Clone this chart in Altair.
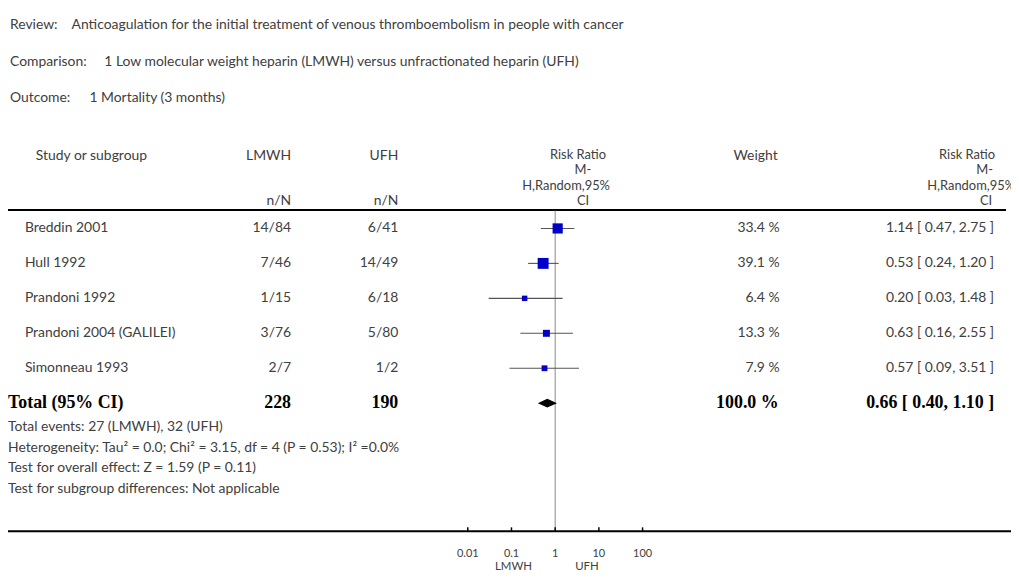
import altair as alt
import pandas as pd

# ---------------- data ----------------
studies = ["Breddin 2001", "Hull 1992", "Prandoni 1992", "Prandoni 2004 (GALILEI)", "Simonneau 1993"]
lmwh_events = [14, 7, 1, 3, 2]
lmwh_totals = [84, 46, 15, 76, 7]
ufh_events = [6, 14, 6, 5, 1]
ufh_totals = [41, 49, 18, 80, 2]
weights = [33.4, 39.1, 6.4, 13.3, 7.9]
rr = [1.14, 0.53, 0.20, 0.63, 0.57]
rr_low = [0.47, 0.24, 0.03, 0.16, 0.09]
rr_high = [2.75, 1.20, 1.48, 2.55, 3.51]

total_label = "Total (95% CI)"
total_lmwh = 228
total_ufh = 190
total_weight = 100.0
total_rr = 0.66
total_low = 0.40
total_high = 1.10

title_labels = ["Review:", "Comparison:", "Outcome:"]
title_values = [
    "Anticoagulation for the initial treatment of venous thromboembolism in people with cancer",
    "1 Low molecular weight heparin (LMWH) versus unfractionated heparin (UFH)",
    "1 Mortality (3 months)",
]
footnotes = [
    "Total events: 27 (LMWH), 32 (UFH)",
    "Heterogeneity: Tau\u00b2 = 0.0; Chi\u00b2 = 3.15, df = 4 (P = 0.53); I\u00b2 =0.0%",
    "Test for overall effect: Z = 1.59 (P = 0.11)",
    "Test for subgroup differences: Not applicable",
]
axis_ticks = [0.01, 0.1, 1, 10, 100]
axis_tick_labels = ["0.01", "0.1", "1", "10", "100"]
favours = ["LMWH", "UFH"]

# ---------------- styling ----------------
SANS = "Lato"
SERIF = "Liberation Serif"
TXT = "#404040"
M = 8  # page margin; positions below are page pixels


def P(v):
    return v - M


XS = alt.Scale(type="log", domain=[0.01, 100], range=[P(471), P(647)], nice=False)
ROW_GAP = 35.2
YS = alt.Scale(domain=[0, 5], range=[P(228), P(228) + 5 * ROW_GAP], nice=False, zero=False)


def label(text, x, y, align="left", size=14, color=TXT, font=SANS, weight="normal"):
    return alt.Chart(pd.DataFrame({"t": [text]})).mark_text(
        align=align, baseline="middle", font=font, fontSize=size, color=color, fontWeight=weight
    ).encode(x=alt.value(P(x)), y=alt.value(P(y)), text="t:N")


def hline(x1, x2, y, width=2, color="black"):
    return alt.Chart(pd.DataFrame({"k": [0]})).mark_rule(color=color, strokeWidth=width).encode(
        x=alt.value(P(x1)), x2=alt.value(P(x2)), y=alt.value(P(y))
    )


layers = []

# titles
for lab, val, y, vx in zip(title_labels, title_values, [23, 60, 97], [72, 105, 90]):
    layers.append(label(lab, 10, y))
    layers.append(label(val, vx, y))

# column headers
HS = 13
layers += [
    label("Study or subgroup", 36, 155),
    label("LMWH", 293, 155, align="right"),
    label("UFH", 401, 155, align="right"),
    label("n/N", 293, 200, align="right"),
    label("n/N", 401, 200, align="right"),
    label("Risk Ratio", 582, 154, align="center", size=HS),
    label("M-", 587, 169.5, align="center", size=HS),
    label("H,Random,95%", 570, 185, align="center", size=HS),
    label("CI", 587, 200, align="center", size=HS),
    label("Weight", 783, 155, align="right"),
    label("Risk Ratio", 1002, 154, align="right", size=HS),
    label("M-", 1000, 169.5, align="right", size=HS),
    label("H,Random,95%", 1022, 185, align="right", size=HS),
    label("CI", 999, 200, align="right", size=HS),
]

layers.append(hline(0, 1013, 209.5))

# study table
df = pd.DataFrame({
    "row": list(range(len(studies))),
    "study": studies,
    "lmwh": [f"{e}/{n}" for e, n in zip(lmwh_events, lmwh_totals)],
    "ufh": [f"{e}/{n}" for e, n in zip(ufh_events, ufh_totals)],
    "weight": weights,
    "weight_txt": [f"{w:.1f} %" for w in weights],
    "rr": rr,
    "lo": rr_low,
    "hi": rr_high,
    "rr_txt": [f"{r:.2f} [ {l:.2f}, {h:.2f} ]" for r, l, h in zip(rr, rr_low, rr_high)],
})
Y = alt.Y("row:Q", scale=YS, axis=None)


def col(field, x, align):
    return alt.Chart(df).mark_text(
        align=align, baseline="middle", font=SANS, fontSize=14, color=TXT
    ).encode(x=alt.value(P(x)), y=Y, text=f"{field}:N")


layers += [
    col("study", 25, "left"),
    col("lmwh", 293, "right"),
    col("ufh", 401, "right"),
    col("weight_txt", 785, "right"),
    col("rr_txt", 1001, "right"),
]

# total row
tdf = pd.DataFrame({
    "row": [len(studies)],
    "label": [total_label],
    "lmwh": [str(total_lmwh)],
    "ufh": [str(total_ufh)],
    "weight_txt": [f"{total_weight:.1f} %"],
    "rr_txt": [f"{total_rr:.2f} [ {total_low:.2f}, {total_high:.2f} ]"],
})


def tcol(field, x, align):
    return alt.Chart(tdf).mark_text(
        align=align, baseline="middle", font=SERIF, fontSize=18, fontWeight="bold", color="black"
    ).encode(x=alt.value(P(x)), y=Y, text=f"{field}:N")


layers += [
    tcol("label", 8, "left"),
    tcol("lmwh", 293, "right"),
    tcol("ufh", 401, "right"),
    tcol("weight_txt", 784, "right"),
    tcol("rr_txt", 1001, "right"),
]

# footnotes
for i, f in enumerate(footnotes):
    layers.append(label(f, 8, 428 + 20.7 * i))

# forest plot: line of no effect
layers.append(
    alt.Chart(pd.DataFrame({"x": [1]})).mark_rule(color="#8a8a8a", strokeWidth=1).encode(
        x=alt.X("x:Q", scale=XS, axis=None), y=alt.value(P(210)), y2=alt.value(P(533))
    )
)
# confidence intervals
layers.append(
    alt.Chart(df).mark_rule(color="#555555", strokeWidth=1.1).encode(
        x=alt.X("lo:Q", scale=XS, axis=None), x2="hi:Q", y=Y
    )
)
# study squares
layers.append(
    alt.Chart(df).mark_square(filled=True, color="#0000C8", opacity=1).encode(
        x=alt.X("rr:Q", scale=XS, axis=None),
        y=Y,
        size=alt.Size("weight:Q", scale=alt.Scale(domain=[6.4, 39.1], range=[30, 121]), legend=None),
    )
)
# pooled diamond
half = 4.4 / ROW_GAP
ddf = pd.DataFrame({
    "x": [total_low, total_rr, total_high],
    "top": [len(studies), len(studies) - half, len(studies)],
    "bot": [len(studies), len(studies) + half, len(studies)],
})
layers.append(
    alt.Chart(ddf).mark_area(color="black", opacity=1).encode(
        x=alt.X("x:Q", scale=XS, axis=None),
        y=alt.Y("top:Q", scale=YS, axis=None),
        y2="bot:Q",
    )
)

# bottom axis
layers.append(hline(0, 1019, 533))
tk = pd.DataFrame({"tick": axis_ticks, "lab": axis_tick_labels})
layers.append(
    alt.Chart(tk).mark_rule(color="black", strokeWidth=1.5).encode(
        x=alt.X("tick:Q", scale=XS, axis=None), y=alt.value(P(529)), y2=alt.value(P(533))
    )
)
layers.append(
    alt.Chart(tk).mark_text(baseline="middle", font=SANS, fontSize=11, color=TXT).encode(
        x=alt.X("tick:Q", scale=XS, axis=None), y=alt.value(P(556)), text="lab:N"
    )
)
layers.append(label(favours[0], 517, 569, align="center", size=11.5))
layers.append(label(favours[1], 591, 569, align="center", size=11.5))

chart = alt.layer(*layers).properties(
    width=1010, height=566, padding=0, autosize=alt.AutoSizeParams(type="none")
).configure_view(stroke=None)

chart.save("out.html", embed_options={"renderer": "svg", "actions": False})
